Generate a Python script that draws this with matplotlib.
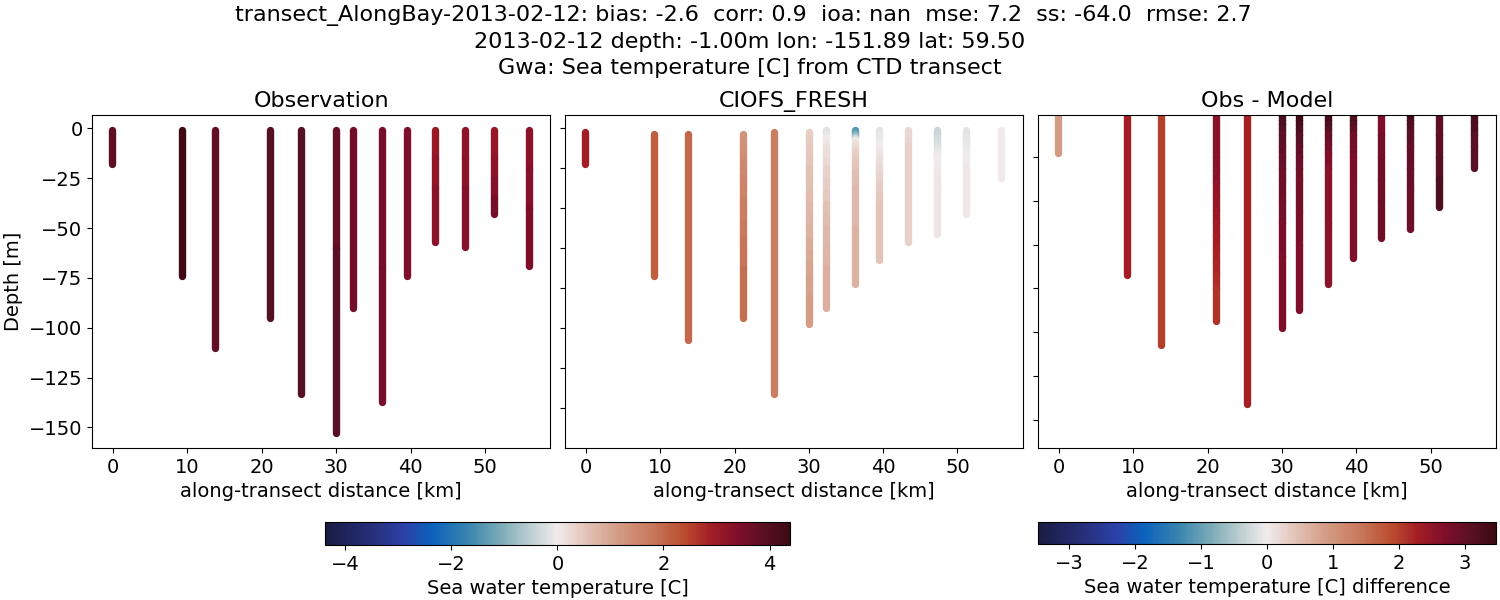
import matplotlib
matplotlib.use("Agg")
import matplotlib.pyplot as plt
from matplotlib.collections import LineCollection
from matplotlib.colors import LinearSegmentedColormap, Normalize
from matplotlib.cm import ScalarMappable
import numpy as np

# Station positions along the transect [km]
dist = [-0.1, 9.2, 13.7, 21.1, 25.25, 30.0, 32.3, 36.2, 39.5, 43.3, 47.3, 51.2, 55.9]

# Observation casts, depth and temperature readings
obs_depth = [
    [-0.7, -18], [-0.7, -74], [-0.7, -110], [-0.7, -95], [-0.7, -133],
    [-0.7, -60, -153], [-0.7, -90], [-0.7, -70, -137], [-0.7, -74],
    [-0.7, -15, -30, -57], [-0.7, -15, -30, -59.5], [-0.7, -15, -25, -35, -43],
    [-0.7, -20, -40, -69],
]
obs_temp = [
    [3.85, 3.85], [4.3, 4.3], [3.8, 3.8], [3.95, 3.95], [3.95, 3.95],
    [3.75, 3.9, 3.9], [3.6, 3.6], [3.5, 3.55, 3.55], [3.4, 3.4],
    [3.05, 3.15, 3.25, 3.25], [3.2, 3.25, 3.3, 3.3], [3.1, 3.2, 3.35, 3.5, 3.5],
    [3.25, 3.35, 3.45, 3.5],
]

# Model casts
model_depth = [
    [-1.8, -18], [-3, -74], [-3, -106],
    [-3, -6, -9, -12, -16, -20, -25, -30, -36, -42, -48, -55, -62, -70, -95],
    [-2, -133],
    [-2, -6, -10, -15, -20, -26, -32, -38, -44, -50, -56, -62, -68, -75, -85, -98],
    [-1, -3, -5, -7, -9, -12, -16, -20, -26, -32, -38, -44, -50, -60, -70, -90],
    [-1, -2, -3, -4, -5, -6, -7, -8, -10, -12, -15, -18, -22, -26, -30, -50, -78],
    [-1, -3, -6, -9, -12, -15, -19, -23, -28, -33, -38, -66],
    [-1, -5, -9, -14, -57],
    [-1, -3, -5, -7, -9, -11, -13, -15, -18, -21, -25, -30, -53],
    [-1, -4, -7, -10, -13, -16, -20, -43],
    [-1, -25],
]
model_temp = [
    [2.9, 2.9], [2.15, 2.15], [2.0, 2.0],
    [1.3, 1.32, 1.35, 1.4, 1.45, 1.5, 1.55, 1.6, 1.65, 1.7, 1.75, 1.8, 1.85, 1.9, 1.9],
    [1.65, 1.65],
    [0.4, 0.43, 0.47, 0.5, 0.55, 0.6, 0.65, 0.7, 0.75, 0.82, 0.88, 0.95, 1.0, 1.05, 1.12, 1.15],
    [-0.2, -0.1, 0.0, 0.08, 0.15, 0.2, 0.27, 0.33, 0.4, 0.47, 0.55, 0.62, 0.7, 0.75, 0.85, 0.85],
    [-1.5, -1.3, -1.0, -0.7, -0.3, 0.0, 0.1, 0.2, 0.3, 0.38, 0.45, 0.52, 0.6, 0.65, 0.7, 0.8, 0.85],
    [-0.15, -0.1, -0.03, 0.03, 0.1, 0.17, 0.25, 0.32, 0.4, 0.47, 0.52, 0.55],
    [0.25, 0.3, 0.35, 0.35, 0.3],
    [-0.4, -0.35, -0.3, -0.25, -0.2, -0.12, -0.05, 0.0, 0.03, 0.05, 0.07, 0.09, 0.1],
    [-0.15, -0.13, -0.1, -0.06, -0.02, 0.0, 0.05, 0.15],
    [0.02, 0.02],
]

# Obs minus model
diff_depth = [
    [-1, -18], [-1, -74], [-1, -106],
    [-1, -20, -26, -32, -38, -44, -50, -56, -62, -68, -74, -80, -95],
    [-1, -133],
    [-1, -3, -5, -7, -10, -15, -20, -25, -30, -40, -50, -65, -98],
    [-1, -3, -5, -7, -10, -15, -20, -25, -30, -45, -60, -90],
    [-1, -3, -5, -7, -10, -14, -18, -25, -50, -78],
    [-1, -3, -5, -7, -10, -15, -20, -30, -66],
    [-1, -10, -20, -30, -40, -57],
    [-1, -3, -5, -8, -11, -15, -25, -35, -53],
    [-1, -10, -20, -30, -43],
    [-1, -4, -7, -10, -15, -25],
]
diff_temp = [
    [0.9, 0.9], [2.3, 2.3], [2.0, 2.0],
    [2.6, 2.58, 2.55, 2.5, 2.45, 2.4, 2.35, 2.3, 2.25, 2.2, 2.15, 2.1, 2.05],
    [2.27, 2.27],
    [3.3, 3.25, 3.2, 3.12, 3.05, 3.0, 2.95, 2.9, 2.88, 2.8, 2.75, 2.7, 2.6],
    [3.4, 3.35, 3.3, 3.2, 3.1, 3.0, 2.92, 2.85, 2.8, 2.75, 2.7, 2.6],
    [3.4, 3.3, 3.2, 3.1, 2.95, 2.8, 2.7, 2.6, 2.55, 2.5],
    [3.3, 3.2, 3.1, 3.0, 2.85, 2.78, 2.72, 2.7, 2.65],
    [2.7, 2.78, 2.82, 2.85, 2.9, 2.95],
    [3.35, 3.3, 3.2, 3.1, 3.05, 3.0, 2.95, 2.9, 2.95],
    [3.05, 3.05, 3.1, 3.2, 3.3],
    [3.3, 3.25, 3.2, 3.1, 3.07, 3.05],
]

# Labels
titles = ["Observation", "CIOFS_FRESH", "Obs - Model"]
suptitle = ("transect_AlongBay-2013-02-12: bias: -2.6  corr: 0.9  ioa: nan  mse: 7.2  ss: -64.0  rmse: 2.7  \n"
            "2013-02-12 depth: -1.00m lon: -151.89 lat: 59.50\n"
            "Gwa: Sea temperature [C] from CTD transect")

# Balance style colormap, picked from the colorbars
balance = LinearSegmentedColormap.from_list("balance", [
    (0.00, "#181c43"), (0.10, "#272f7a"), (0.17, "#2a41a8"), (0.23, "#0b62bb"),
    (0.31, "#3b86ae"), (0.38, "#7eacb8"), (0.44, "#bccdd0"), (0.50, "#f0ecec"),
    (0.56, "#e3c4b9"), (0.63, "#d39c84"), (0.70, "#c97a5e"), (0.77, "#bb4f30"),
    (0.83, "#a41e24"), (0.89, "#7f0e2b"), (0.95, "#571023"), (1.00, "#3c0912"),
])

W, H = 1500, 600


def px_axes(fig, x0, y0, x1, y1):
    # axes from pixel box, y measured from the top
    return fig.add_axes([x0 / W, 1 - y1 / H, (x1 - x0) / W, (y1 - y0) / H])


def draw_casts(ax, depths, temps, norm):
    for x, d, t in zip(dist, depths, temps):
        pts = [[(x, d[i]), (x, d[i + 1])] for i in range(len(d) - 1)]
        lc = LineCollection(pts, cmap=balance, norm=norm, linewidths=5.3, capstyle="round")
        lc.set_array(np.array(t[:-1]))
        ax.add_collection(lc)


fig = plt.figure(figsize=(15, 6), dpi=100)

norm_t = Normalize(-4.39, 4.39)
norm_d = Normalize(-3.47, 3.47)

ax1 = px_axes(fig, 92.3, 115, 550.3, 448)
ax2 = px_axes(fig, 565.2, 115, 1022.8, 448)
ax3 = px_axes(fig, 1038, 115, 1496, 448)

draw_casts(ax1, obs_depth, obs_temp, norm_t)
draw_casts(ax2, model_depth, model_temp, norm_t)
draw_casts(ax3, diff_depth, diff_temp, norm_d)

for ax, title in zip([ax1, ax2, ax3], titles):
    ax.set_title(title, fontsize=16, pad=6)
    ax.set_xlim(-2.8, 58.8)
    ax.set_xticks([0, 10, 20, 30, 40, 50])
    ax.set_xlabel("along-transect distance [km]", fontsize=14)
    ax.tick_params(labelsize=14)

ax1.set_ylim(-160.3, 6.7)
ax2.set_ylim(-160.3, 6.7)
ax3.set_ylim(-152.9, -0.8)
ax1.set_yticks([0, -25, -50, -75, -100, -125, -150])
ax1.set_ylabel("Depth [m]", fontsize=14)
ax2.set_yticks([0, -20, -40, -60, -80, -100, -120, -140])
ax3.set_yticks([-20, -40, -60, -80, -100, -120, -140])
ax2.set_yticklabels([])
ax3.set_yticklabels([])

# Colorbars
cax1 = px_axes(fig, 324.7, 522, 790.2, 545)
cb1 = fig.colorbar(ScalarMappable(norm=norm_t, cmap=balance), cax=cax1, orientation="horizontal")
cb1.set_ticks([-4, -2, 0, 2, 4])
cb1.ax.tick_params(labelsize=14)
cb1.set_label("Sea water temperature [C]", fontsize=14)

cax2 = px_axes(fig, 1038, 522, 1496, 544)
cb2 = fig.colorbar(ScalarMappable(norm=norm_d, cmap=balance), cax=cax2, orientation="horizontal")
cb2.set_ticks([-3, -2, -1, 0, 1, 2, 3])
cb2.ax.tick_params(labelsize=14)
cb2.set_label("Sea water temperature [C] difference", fontsize=14)

fig.suptitle(suptitle, fontsize=16, x=0.5, y=0.991, va="top", linespacing=1.37)

fig.savefig("out.png", dpi=100)
